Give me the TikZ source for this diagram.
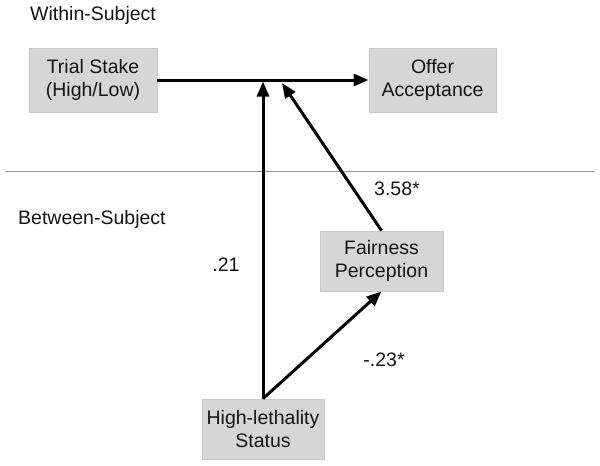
\documentclass[tikz,border=0pt]{standalone}
\usepackage{fontspec}
\setmainfont{Liberation Sans}
\usetikzlibrary{arrows.meta}
\definecolor{boxgray}{RGB}{214,214,214}
\definecolor{boxedge}{RGB}{200,200,200}
\definecolor{sepgray}{RGB}{150,150,150}
\begin{document}
\begin{tikzpicture}[x=1pt,y=-1pt,
  every node/.style={font=\fontsize{19.5}{22.5}\selectfont, text=black!92},
  varbox/.style={draw=boxedge, line width=0.8pt, fill=boxgray, align=center, inner sep=0pt, minimum height=#1},
  path/.style={line width=3pt, -{Triangle[length=15pt,width=12pt]}},
  lbl/.style={inner sep=0pt}]
\useasboundingbox (0,0) rectangle (600,466);
% section titles
\node[lbl, anchor=west] (within) at (30,15) {Within-Subject};
\node[lbl, anchor=west] (between) at (18,219) {Between-Subject};
% separator
\coordinate (sepL) at (5,171);
\coordinate (sepR) at (595,171);
\draw[sepgray, line width=1pt] (sepL) -- (sepR);
% boxes
\node[varbox=64pt, minimum width=128pt] (trial) at (93,80) {Trial Stake\\(High/Low)};
\node[varbox=64pt, minimum width=127pt] (offer) at (432.5,80) {Offer\\Acceptance};
\node[varbox=60pt, minimum width=123pt] (fair) at (381.5,261) {Fairness\\Perception};
\node[varbox=60pt, minimum width=122pt] (high) at (263,429) {High-lethality\\Status};
% junction points on the main path
\coordinate (j1) at (263,81.5);
\coordinate (j2) at (282,83);
% connectors
\draw[path] (trial.east) -- (offer.west);
\draw[path] (high.north) -- (j1);
\draw[path] (fair.north) -- (j2);
\draw[path] (high.north) -- (fair.south);
% coefficients
\node[lbl] (c358) at (397,189) {3.58*};
\node[lbl] (c21) at (226,265) {.21};
\node[lbl] (c23) at (384,360) {-.23*};
\end{tikzpicture}
\end{document}
